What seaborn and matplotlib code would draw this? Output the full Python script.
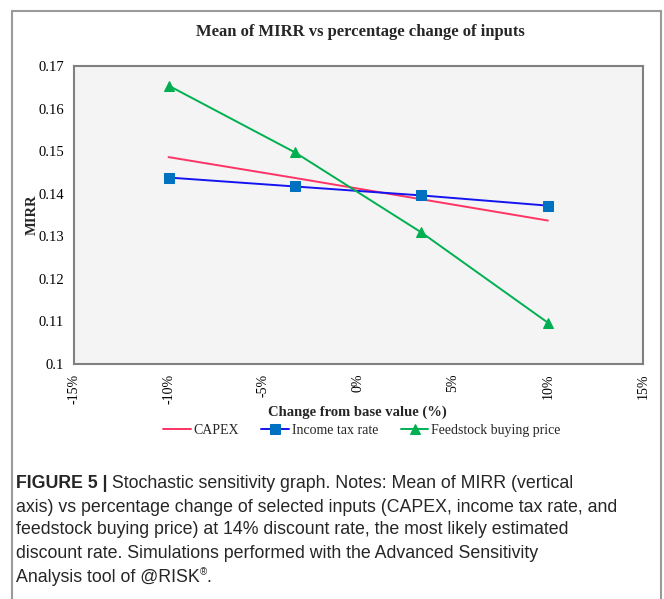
import pandas as pd
import seaborn as sns
import matplotlib.pyplot as plt
from matplotlib.lines import Line2D
from matplotlib.ticker import FuncFormatter

# datos
cambio = [-10, -3.33, 3.33, 10]
capex = [0.1486, 0.1437, 0.1387, 0.1337]
impuesto = [0.1438, 0.1417, 0.1396, 0.1372]
materia_prima = [0.1654, 0.1497, 0.1309, 0.1097]
series = ["CAPEX", "Income tax rate", "Feedstock buying price"]
x_ticks = [-15, -10, -5, 0, 5, 10, 15]
y_ticks = [0.10, 0.11, 0.12, 0.13, 0.14, 0.15, 0.16, 0.17]

caption_lines = [
    "axis) vs percentage change of selected inputs (CAPEX, income tax rate, and",
    "feedstock buying price) at 14% discount rate, the most likely estimated",
    "discount rate. Simulations performed with the Advanced Sensitivity",
]

sns.set_style("white")
plt.rcParams["font.family"] = ["Liberation Serif", "DejaVu Serif"]

df = pd.DataFrame({
    "cambio": cambio * 3,
    "mirr": capex + impuesto + materia_prima,
    "serie": [s for s in series for _ in cambio],
})

fig = plt.figure(figsize=(6.64, 5.99), dpi=100)
ax = fig.add_axes([0.111, 0.3923, 0.857, 0.4975])
ax.set_facecolor("#f4f4f4")

estilos = {
    "CAPEX": dict(color="#ff3366", marker=None, mfc=None),
    "Income tax rate": dict(color="#1414f0", marker="s", mfc="#0070c0"),
    "Feedstock buying price": dict(color="#00b050", marker="^", mfc="#00b050"),
}
for s in series:
    e = estilos[s]
    sub = df[df["serie"] == s]
    sns.lineplot(data=sub, x="cambio", y="mirr", ax=ax, color=e["color"],
                 marker=e["marker"], markersize=7, markerfacecolor=e["mfc"],
                 markeredgecolor=e["mfc"], linewidth=1.4, label=s, legend=False)

ax.set_xlim(-15, 15)
ax.set_ylim(0.1, 0.17)
ax.set_xticks(x_ticks)
ax.set_yticks(y_ticks)
ax.xaxis.set_major_formatter(FuncFormatter(lambda v, p: f"{v:.0f}%"))
ax.yaxis.set_major_formatter(FuncFormatter(lambda v, p: f"{v:g}"))
for lab in ax.get_xticklabels():
    lab.set_rotation(90)
ax.tick_params(axis="x", labelsize=10)
ax.tick_params(axis="y", labelsize=10.5)
ax.tick_params(axis="both", direction="out", length=5,
               width=1, color="#808080", labelcolor="black", pad=2)
for sp in ax.spines.values():
    sp.set_color("#808080")
    sp.set_linewidth(1.5)
ax.set_xlabel("")
ax.set_ylabel("")

fig.text(0.542, 0.947, "Mean of MIRR vs percentage change of inputs",
         ha="center", va="center", fontsize=12, fontweight="bold")
fig.text(0.048, 0.641, "MIRR", rotation=90, ha="center", va="center",
         fontsize=10.5, fontweight="bold")
fig.text(0.538, 0.312, "Change from base value (%)", ha="center", va="center",
         fontsize=10.5, fontweight="bold")

handles, labels = ax.get_legend_handles_labels()
fig.legend(handles, labels, loc="center", bbox_to_anchor=(0.545, 0.282), ncol=3,
           frameon=False, fontsize=10, handlelength=2.0, handletextpad=0.2,
           columnspacing=1.6, borderaxespad=0)

# marco exterior
marco = dict(color="#9a9a9a", linewidth=1.5, transform=fig.transFigure)
fig.add_artist(Line2D([0.018, 0.018], [0.0, 0.9816], **marco))
fig.add_artist(Line2D([0.018, 0.9955], [0.9816, 0.9816], **marco))
fig.add_artist(Line2D([0.9955, 0.9955], [0.0, 0.9816], **marco))

# pie de figura
sans = ["Liberation Sans", "DejaVu Sans"]
fs = 12.8
ys = [1 - 483 / 599, 1 - 507 / 599, 1 - 530 / 599, 1 - 554 / 599, 1 - 578 / 599]
t0 = fig.text(0.024, ys[0], "FIGURE 5 |", family=sans, fontsize=fs,
              fontweight="bold", va="center", ha="left")
ax.annotate(" Stochastic sensitivity graph. Notes: Mean of MIRR (vertical",
            xy=(1, 0), xycoords=t0, va="bottom", ha="left",
            family=sans, fontsize=fs, annotation_clip=False)
for y, linea in zip(ys[1:4], caption_lines):
    fig.text(0.024, y, linea, family=sans, fontsize=fs, va="center", ha="left")
t4 = fig.text(0.024, ys[4], "Analysis tool of @RISK", family=sans, fontsize=fs,
              va="center", ha="left")
ax.annotate("®", xy=(1, 0.55), xycoords=t4, va="bottom", ha="left",
            family=sans, fontsize=7, annotation_clip=False)
ax.annotate(".", xy=(1, 0), xycoords=t4, xytext=(5, 0), textcoords="offset points",
            va="bottom", ha="left", family=sans, fontsize=fs, annotation_clip=False)

fig.savefig("out.png", dpi=100)
